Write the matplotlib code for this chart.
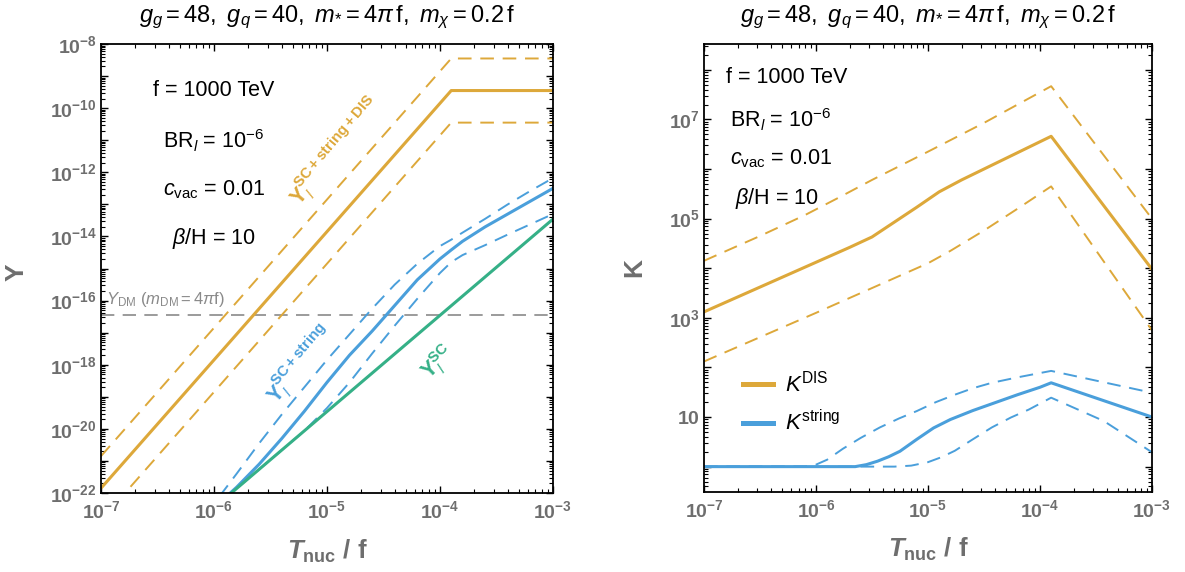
import numpy as np
import matplotlib
matplotlib.use("Agg")
import matplotlib.pyplot as plt
from matplotlib.ticker import LogLocator, FuncFormatter, NullFormatter
from matplotlib.lines import Line2D

plt.rcParams['font.family'] = ['Liberation Sans', 'DejaVu Sans']
plt.rcParams['mathtext.fontset'] = 'custom'
plt.rcParams['mathtext.rm'] = 'Liberation Sans'
plt.rcParams['mathtext.it'] = 'Liberation Sans:italic'
plt.rcParams['mathtext.bf'] = 'Liberation Sans:bold'
if 'mathtext.bfit' in plt.rcParams:
    plt.rcParams['mathtext.bfit'] = 'Liberation Sans:bold:italic'

# couleurs des courbes
c_gold = '#DDA83A'
c_blue = '#4A9FDB'
c_green = '#35B087'
c_tick = '#6E6E6E'

# ---- donnees (log10) ----
# panneau gauche : Y en fonction de T_nuc/f
t_gold = [-7.0, -3.9, -3.0]
y_gold = [-21.85, -9.45, -9.45]
y_gold_hi = [-20.85, -8.45, -8.45]
y_gold_lo = [-22.85, -10.45, -10.45]

t_sc = [-7.0, -3.0]
y_sc = [-25.46, -13.46]

t_str = [-6.0, -5.8, -5.6, -5.4, -5.2, -5.0, -4.8, -4.6, -4.4, -4.2, -4.0, -3.9, -3.8, -3.6, -3.4, -3.2, -3.0]
y_str = [-22.46, -21.82, -21.1, -20.3, -19.45, -18.55, -17.7, -16.95, -16.15, -15.35, -14.7, -14.42, -14.15, -13.7, -13.3, -12.9, -12.5]
t_str_hi = [-5.95, -5.8, -5.6, -5.4, -5.2, -5.0, -4.8, -4.6, -4.4, -4.2, -4.0, -3.9, -3.8, -3.6, -3.4, -3.2, -3.0]
y_str_hi = [-22.1, -21.4, -20.45, -19.55, -18.7, -17.85, -17.05, -16.25, -15.5, -14.85, -14.3, -14.1, -13.88, -13.45, -13.0, -12.58, -12.18]
t_str_lo = [-7.0, -5.2, -5.0, -4.8, -4.6, -4.4, -4.2, -4.0, -3.9, -3.8, -3.6, -3.4, -3.2, -3.0]
y_str_lo = [-25.46, -20.06, -19.35, -18.55, -17.65, -16.78, -15.94, -15.14, -14.8, -14.58, -14.27, -13.94, -13.62, -13.3]

y_dm = -16.46

# panneau droit : K en fonction de T_nuc/f
t_dis = [-7.0, -6.5, -6.0, -5.7, -5.5, -5.3, -5.1, -4.9, -4.7, -4.5, -4.2, -3.9, -3.0]
k_dis = [3.12, 3.62, 4.12, 4.42, 4.63, 4.93, 5.23, 5.54, 5.78, 6.0, 6.33, 6.66, 3.98]
t_dis_hi = [-7.0, -6.5, -6.1, -5.8, -5.5, -5.0, -4.5, -3.9, -3.0]
k_dis_hi = [4.15, 4.65, 5.07, 5.42, 5.78, 6.35, 6.93, 7.67, 5.0]
t_dis_lo = [-7.0, -6.0, -5.5, -5.2, -5.0, -4.8, -4.5, -4.2, -3.9, -3.0]
k_dis_lo = [2.12, 3.1, 3.6, 3.9, 4.1, 4.35, 4.76, 5.2, 5.65, 2.75]

t_kstr = [-7.0, -5.65, -5.55, -5.45, -5.35, -5.25, -5.1, -4.95, -4.8, -4.6, -4.4, -4.2, -4.0, -3.9, -3.0]
k_kstr = [0.0, 0.0, 0.04, 0.11, 0.2, 0.31, 0.55, 0.78, 0.95, 1.13, 1.29, 1.45, 1.6, 1.69, 1.0]
t_kstr_hi = [-7.0, -6.1, -6.0, -5.9, -5.76, -5.6, -5.43, -5.26, -5.1, -4.93, -4.76, -4.6, -4.43, -4.2, -3.9, -3.0]
k_kstr_hi = [0.0, 0.0, 0.04, 0.14, 0.36, 0.58, 0.79, 0.97, 1.12, 1.3, 1.45, 1.58, 1.69, 1.8, 1.93, 1.49]
t_kstr_lo = [-7.0, -5.3, -5.15, -5.0, -4.88, -4.76, -4.6, -4.43, -4.26, -4.1, -3.9, -3.43, -3.0]
k_kstr_lo = [0.0, 0.0, 0.02, 0.09, 0.19, 0.32, 0.55, 0.79, 0.99, 1.15, 1.39, 0.92, 0.29]


def p10(v):
    return np.power(10.0, np.array(v, dtype=float))


title = r"$g_g = 48,\ g_q = 40,\ m_{*} = 4\pi\,\mathrm{f},\ m_\chi = 0.2\,\mathrm{f}$"
xlab = r"$\mathbfit{T}_{\mathbf{nuc}}\ \mathbf{/\ f}$"

fig = plt.figure(figsize=(11.85, 5.72), dpi=100)
ax1 = fig.add_axes([0.0852, 0.138, 0.3814, 0.785])
ax2 = fig.add_axes([0.5941, 0.140, 0.378, 0.783])

dash = (7, 4.5)
lw_s = 2.2
lw_d = 1.4


def style_axes(ax, keep):
    ax.set_xscale('log')
    ax.set_yscale('log')
    for sp in ax.spines.values():
        sp.set_linewidth(1.3)
    ax.xaxis.set_major_locator(LogLocator(base=10, subs=(1.0,), numticks=40))
    ax.yaxis.set_major_locator(LogLocator(base=10, subs=(1.0,), numticks=40))
    ax.xaxis.set_minor_locator(LogLocator(base=10, subs=np.arange(2, 10), numticks=40))
    ax.yaxis.set_minor_locator(LogLocator(base=10, subs=np.arange(2, 10), numticks=40))
    ax.xaxis.set_minor_formatter(NullFormatter())
    ax.yaxis.set_minor_formatter(NullFormatter())
    ax.xaxis.set_major_formatter(FuncFormatter(
        lambda v, p: r"$\mathbf{10^{%d}}$" % round(np.log10(v))))

    def yfmt(v, p):
        e = round(np.log10(v))
        if not keep(e):
            return ""
        if e == 1:
            return r"$\mathbf{10}$"
        return r"$\mathbf{10^{%d}}$" % e
    ax.yaxis.set_major_formatter(FuncFormatter(yfmt))
    ax.tick_params(which='both', direction='in', top=True, right=True,
                   colors='black', labelcolor=c_tick, labelsize=14)
    ax.tick_params(which='major', length=5, width=1.0)
    ax.tick_params(which='minor', length=2.7, width=0.8)
    ax.tick_params(axis='x', pad=5)
    ax.tick_params(axis='y', pad=3)


# ---- panneau gauche ----
ax1.axhline(p10(y_dm), color='#8A8A8A', lw=1.2, dashes=(8, 5), zorder=1)
ax1.plot(p10(t_gold), p10(y_gold_hi), color=c_gold, lw=lw_d, dashes=dash)
ax1.plot(p10(t_gold), p10(y_gold_lo), color=c_gold, lw=lw_d, dashes=dash)
ax1.plot(p10(t_gold), p10(y_gold), color=c_gold, lw=lw_s)
ax1.plot(p10(t_str_hi), p10(y_str_hi), color=c_blue, lw=lw_d, dashes=dash)
ax1.plot(p10(t_str_lo), p10(y_str_lo), color=c_blue, lw=lw_d, dashes=dash)
ax1.plot(p10(t_str), p10(y_str), color=c_blue, lw=lw_s)
ax1.plot(p10(t_sc), p10(y_sc), color=c_green, lw=lw_s)

style_axes(ax1, lambda e: e % 2 == 0)
ax1.set_xlim(1e-7, 1e-3)
ax1.set_ylim(1e-22, 1e-8)

ax1.text(0.5, 1.06, title, transform=ax1.transAxes, ha='center', va='center', fontsize=17)
ax1.text(0.5, -0.129, xlab, transform=ax1.transAxes, ha='center', va='center',
         fontsize=18.5, color=c_tick)
ax1.text(-0.186, 0.492, "Y", transform=ax1.transAxes, ha='center', va='center',
         fontsize=19, fontweight='bold', color=c_tick, rotation=90)

params = [r"f = 1000 TeV", r"BR$_l$ = 10$^{-6}$", r"$c_{\mathrm{vac}}$ = 0.01", r"$\beta$/H = 10"]
for s, yy in zip(params, [0.896, 0.784, 0.675, 0.566]):
    ax1.text(0.25, yy, s, transform=ax1.transAxes, ha='center', va='center', fontsize=15.5)

ax1.text(0.011, 0.432, r"$Y_{\mathrm{DM}}\ (m_{\mathrm{DM}} = 4\pi\mathrm{f})$", transform=ax1.transAxes,
         ha='left', va='center', fontsize=12, color='#8A8A8A')

ax1.text(0.52, 0.761, r"$\mathbf{Y}_{l}^{\mathbf{SC+string+DIS}}$", transform=ax1.transAxes,
         ha='center', va='center', fontsize=15.5, color=c_gold, rotation=50, rotation_mode='anchor')
ax1.text(0.441, 0.286, r"$\mathbf{Y}_{l}^{\mathbf{SC+string}}$", transform=ax1.transAxes,
         ha='center', va='center', fontsize=15.5, color=c_blue, rotation=50, rotation_mode='anchor')
ax1.text(0.746, 0.29, r"$\mathbf{Y}_{l}^{\mathbf{SC}}$", transform=ax1.transAxes,
         ha='center', va='center', fontsize=15.5, color=c_green, rotation=44, rotation_mode='anchor')

# ---- panneau droit ----
ax2.plot(p10(t_dis_hi), p10(k_dis_hi), color=c_gold, lw=lw_d, dashes=dash)
ax2.plot(p10(t_dis_lo), p10(k_dis_lo), color=c_gold, lw=lw_d, dashes=dash)
ax2.plot(p10(t_dis), p10(k_dis), color=c_gold, lw=lw_s)
ax2.plot(p10(t_kstr_hi), p10(k_kstr_hi), color=c_blue, lw=lw_d, dashes=dash)
ax2.plot(p10(t_kstr_lo), p10(k_kstr_lo), color=c_blue, lw=lw_d, dashes=dash)
ax2.plot(p10(t_kstr), p10(k_kstr), color=c_blue, lw=lw_s)

style_axes(ax2, lambda e: e % 2 == 1)
ax2.set_xlim(1e-7, 1e-3)
ax2.set_ylim(10 ** -0.51, 10 ** 8.52)

ax2.text(0.5, 1.06, title, transform=ax2.transAxes, ha='center', va='center', fontsize=17)
ax2.text(0.5, -0.129, xlab, transform=ax2.transAxes, ha='center', va='center',
         fontsize=18.5, color=c_tick)
ax2.text(-0.156, 0.5, "K", transform=ax2.transAxes, ha='center', va='center',
         fontsize=19, fontweight='bold', color=c_tick, rotation=90)

for s, xx, yy in zip(params, [0.184, 0.171, 0.171, 0.163], [0.926, 0.832, 0.745, 0.656]):
    ax2.text(xx, yy, s, transform=ax2.transAxes, ha='center', va='center', fontsize=15.5)

handles = [Line2D([], [], color=c_gold, lw=3.6), Line2D([], [], color=c_blue, lw=3.6)]
ax2.legend(handles, [r"$K^{\mathrm{DIS}}$", r"$K^{\mathrm{string}}$"], loc='center left',
           bbox_to_anchor=(0.087, 0.198), frameon=False, fontsize=16, handlelength=1.35,
           handletextpad=0.55, labelspacing=0.6, borderpad=0, borderaxespad=0)

fig.savefig("out.png", dpi=100)
